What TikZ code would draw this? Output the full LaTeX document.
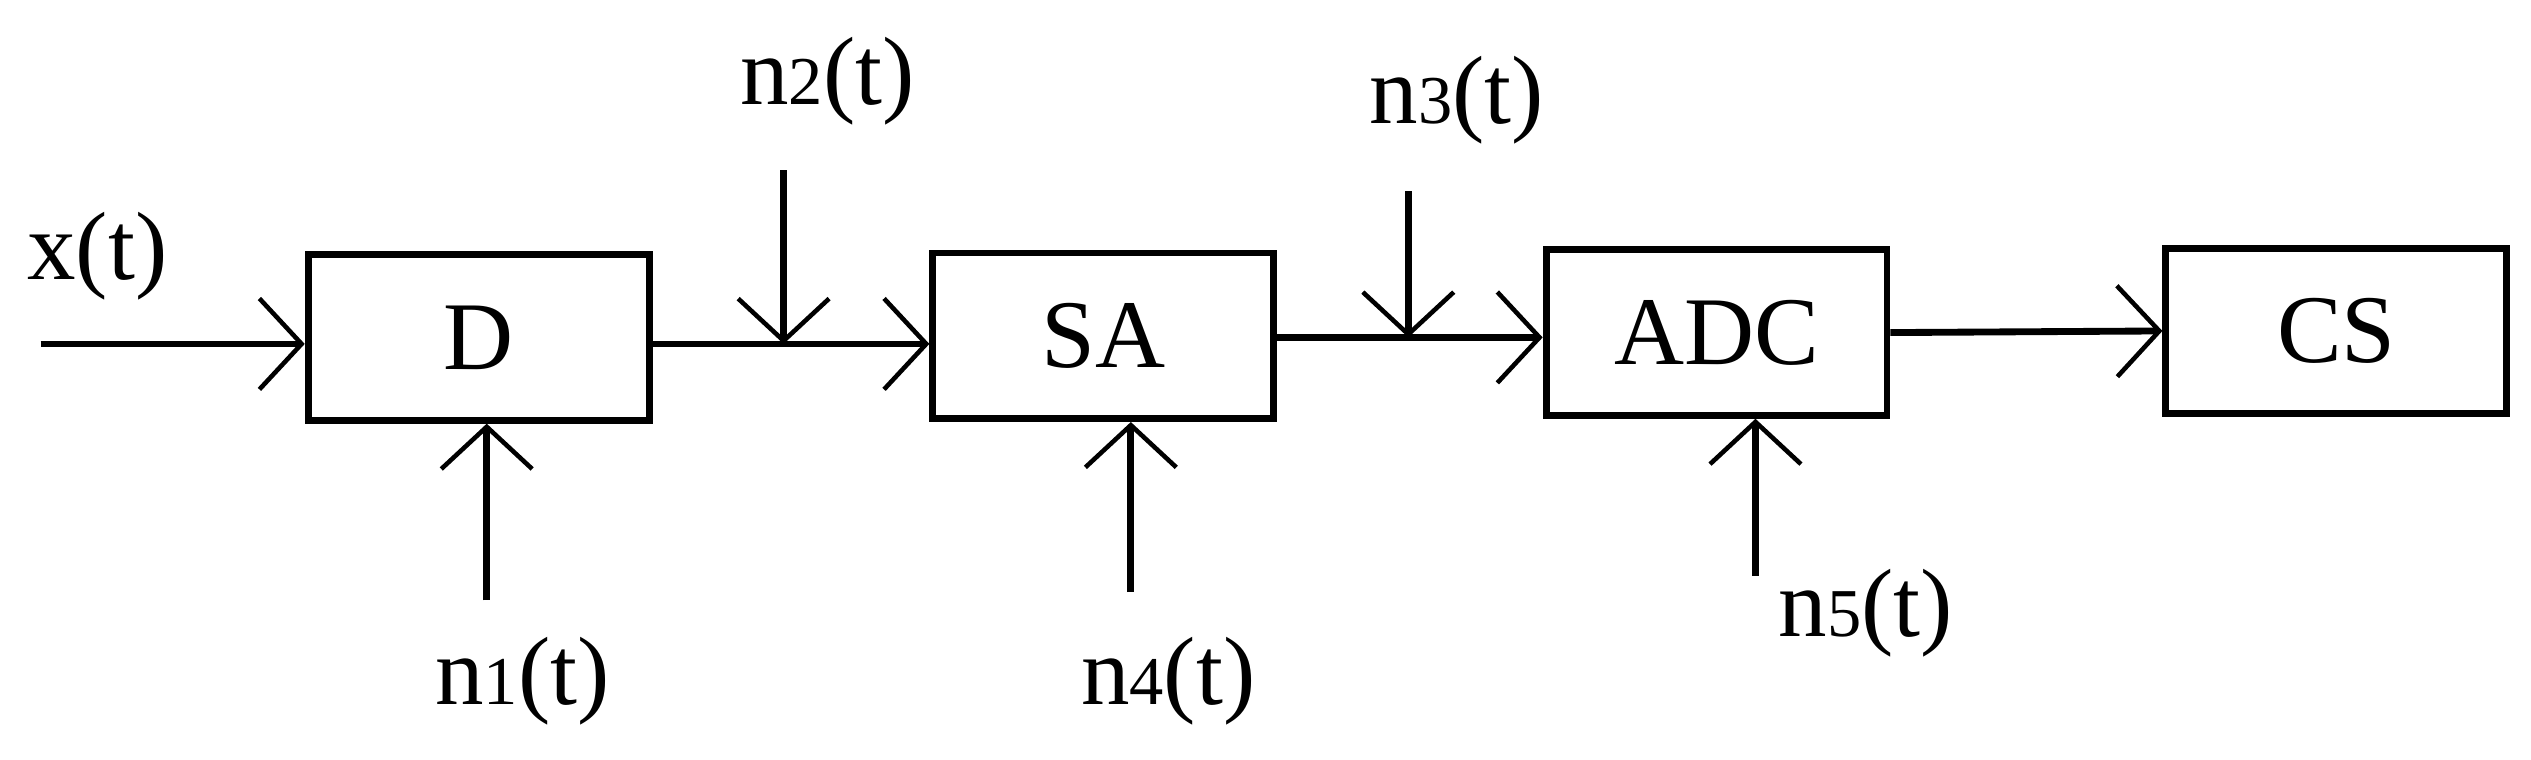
\documentclass[tikz,border=0pt]{standalone}
\usepackage{fontspec}
\setmainfont{Liberation Serif}
\usetikzlibrary{arrows.meta}
\newcommand{\noisesig}[1]{n{\fontsize{12}{12}\selectfont #1}(t)}
\begin{document}
\begin{tikzpicture}[x=0.01cm, y=-0.01cm,
blocknode/.style={rectangle, draw=black, line width=1.2pt, minimum width=2.1cm, minimum height=1.02cm, font=\fontsize{17}{20}\selectfont},
textnode/.style={font=\fontsize{17}{20}\selectfont},
sig/.style={line width=1.2pt, -{Straight Barb[length=2.6mm, width=5.6mm, line width=0.8pt]}},
]
\useasboundingbox (0,0) rectangle (1560,468);
%Nodes
\node[blocknode]      (d)       at (295,208) {D};
\node[blocknode]      (sa)      at (680,207) {SA};
\node[blocknode]      (adc)     at (1058,205) {ADC};
\node[blocknode]      (cs)      at (1440,204) {CS};
\coordinate (in) at (25,212);
\coordinate (j2) at (483,212);
\coordinate (j3) at (868,208);
\coordinate (s2) at (483,105);
\coordinate (s3) at (868,118);
\coordinate (s1) at (300,370);
\coordinate (s4) at (697,365);
\coordinate (s5) at (1082,355);
\node[textnode]       (xl)      at (60,158) {x(t)};
\node[textnode]       (l2)      at (510,50) {\noisesig{2}};
\node[textnode]       (l3)      at (898,62) {\noisesig{3}};
\node[textnode]       (l1)      at (322,420) {\noisesig{1}};
\node[textnode]       (l4)      at (720,420) {\noisesig{4}};
\node[textnode]       (l5)      at (1150,378) {\noisesig{5}};

%Lines
\draw[sig] (in) -- (in -| d.west);
\draw[sig] (d.east |- j2) -- (j2 -| sa.west);
\draw[sig] (sa.east |- j3) -- (j3 -| adc.west);
\draw[sig] (adc.east) -- (cs.west);
\draw[sig] (s2) -- (j2);
\draw[sig] (s3) -- (j3);
\draw[sig] (s1) -- (s1 |- d.south);
\draw[sig] (s4) -- (s4 |- sa.south);
\draw[sig] (s5) -- (s5 |- adc.south);
\end{tikzpicture}
\end{document}
